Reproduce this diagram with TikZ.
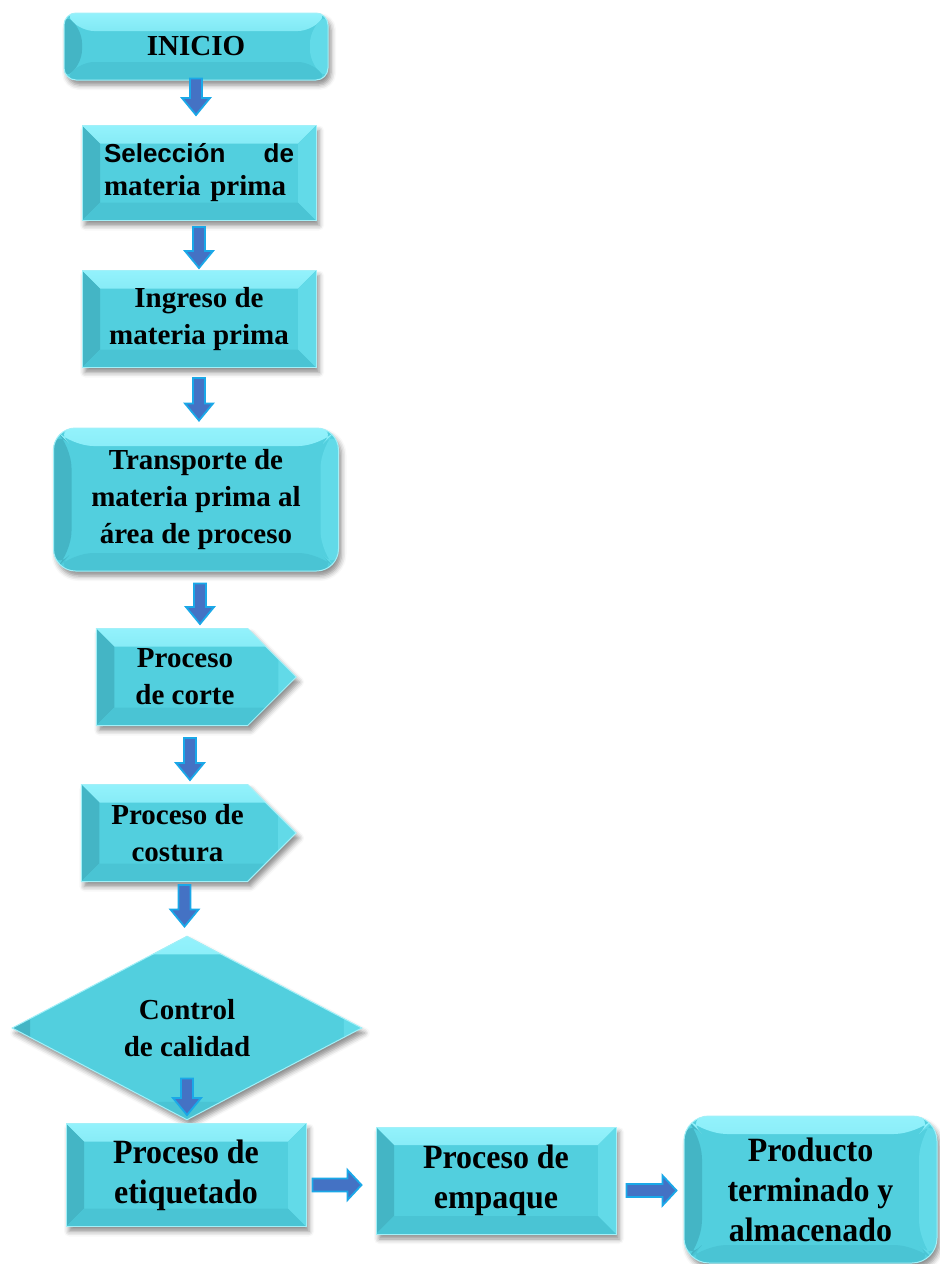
\documentclass[tikz,border=0pt]{standalone}
\usepackage{fontspec}
\setmainfont{Liberation Serif}
\setsansfont{Liberation Sans}
\newfontfamily\narrowserif{Liberation Serif}[FakeStretch=0.94]
\usetikzlibrary{calc,shapes.geometric,shapes.symbols,shadows.blur}

\definecolor{boxmain}{HTML}{52CFDE}
\definecolor{boxtop}{HTML}{93F2FC}
\definecolor{boxleft}{HTML}{44B5C5}
\definecolor{boxright}{HTML}{62DAE8}
\definecolor{boxbot}{HTML}{4AC4D4}
\definecolor{boxedge}{HTML}{A2F0F8}
\definecolor{arrfill}{HTML}{4472C4}
\definecolor{arredge}{HTML}{1AA8E8}

\tikzset{
    bevelfill/.style={path picture={
        \fill[top color=boxtop, bottom color=boxmain]
            (path picture bounding box.north west) -- (path picture bounding box.north east)
            -- ([shift={(-#1,-#1)}]path picture bounding box.north east)
            -- ([shift={(#1,-#1)}]path picture bounding box.north west) -- cycle;
        \fill[boxleft]
            (path picture bounding box.north west) -- ([shift={(#1,-#1)}]path picture bounding box.north west)
            -- ([shift={(#1,#1)}]path picture bounding box.south west) -- (path picture bounding box.south west) -- cycle;
        \fill[boxright]
            (path picture bounding box.north east) -- ([shift={(-#1,-#1)}]path picture bounding box.north east)
            -- ([shift={(-#1,#1)}]path picture bounding box.south east) -- (path picture bounding box.south east) -- cycle;
        \fill[boxbot]
            (path picture bounding box.south west) -- ([shift={(#1,#1)}]path picture bounding box.south west)
            -- ([shift={(-#1,#1)}]path picture bounding box.south east) -- (path picture bounding box.south east) -- cycle;
    }},
    box/.style={fill=boxmain, draw=boxedge, line width=0.5pt, align=center, inner sep=2pt,
        font=\bfseries\fontsize{14.5}{18.5}\selectfont,
        blur shadow={shadow xshift=1.5pt, shadow yshift=-2.5pt, shadow blur radius=2.5pt, shadow opacity=45},
        bevelfill=9pt},
    tag/.style={box, signal, signal to=east, signal pointer angle=90},
    lowbox/.style={box, font=\narrowserif\bfseries\fontsize{17}{20}\selectfont},
    blk/.style={fill=arrfill, draw=arredge, line width=0.9pt, line join=miter},
}

\begin{document}
\begin{tikzpicture}[x=0.5pt, y=-0.5pt]
    % block arrows: #1 top of the shaft, #2 the tip
    \def\arrdown#1#2{%
        \path[blk] let \p1=(#1), \p2=(#2) in
            (\x1-3pt,\y1) -- (\x1+3pt,\y1) -- (\x1+3pt,\y2+8.5pt) -- (\x1+7pt,\y2+8.5pt)
            -- (\x1,\y2) -- (\x1-7pt,\y2+8.5pt) -- (\x1-3pt,\y2+8.5pt) -- cycle;
    }
    \def\arrright#1#2{%
        \path[blk] let \p1=(#1), \p2=(#2) in
            (\x1,\y1+3.25pt) -- (\x2-7pt,\y1+3.25pt) -- (\x2-7pt,\y1+7.5pt) -- (\x2,\y1)
            -- (\x2-7pt,\y1-7.5pt) -- (\x2-7pt,\y1-3.25pt) -- (\x1,\y1-3.25pt) -- cycle;
    }
    % push the text of the tag boxes towards the tip
    \def\tip{\hspace*{13pt}}

    \useasboundingbox (0,0) rectangle (939,1264);

    % main column
    \node[box, rounded corners=6pt, minimum width=132pt, minimum height=33.5pt] (ini) at (196,46.5) {INICIO};
    \node[box, minimum width=117pt, minimum height=47.5pt, align=left, text width=95pt,
        font=\bfseries\fontsize{14.5}{16.5}\selectfont] (sel) at (199,173)
        {\makebox[95pt]{\sffamily\fontsize{13}{16.5}\selectfont Selección\hfill de}\\materia prima};
    \node[box, minimum width=117pt, minimum height=48.5pt] (ing) at (199,319) {Ingreso de\\materia prima};
    \node[box, rounded corners=11pt, minimum width=142.5pt, minimum height=71.5pt] (tra) at (196,499.5)
        {Transporte de\\materia prima al\\área de proceso};
    \node[tag, minimum width=100pt, minimum height=48.5pt] (cor) at (172,677)
        {\tip Proceso\\\tip de corte};
    \node[tag, minimum width=104.5pt, minimum height=48.5pt] (cos) at (164.5,833)
        {\tip Proceso de\\\tip costura};
    \node[box, diamond, inner sep=0pt, minimum width=175pt, minimum height=90pt] (cal) at (187,1028)
        {Control\\de calidad};

    % bottom row
    \node[lowbox, minimum width=120pt, minimum height=51.5pt] (eti) at (186,1175) {Proceso de\\etiquetado};
    \node[lowbox, minimum width=120pt, minimum height=53.5pt] (emp) at (496,1180.5) {Proceso de\\empaque};
    \node[lowbox, rounded corners=12.5pt, minimum width=126.5pt, minimum height=73.5pt] (pro) at (810.5,1189.5)
        {Producto\\terminado y\\almacenado};

    % connectors
    \arrdown{[yshift=1pt]ini.south}{[yshift=5pt]sel.north}
    \arrdown{[yshift=-3pt]sel.south}{[yshift=1pt]ing.north}
    \arrdown{[yshift=-5pt]ing.south}{[yshift=3.5pt]tra.north}
    \arrdown{[xshift=2pt,yshift=-6pt]tra.south}{[yshift=2pt]cor.north}
    \arrdown{[xshift=9pt,yshift=-6pt]cor.south}{[yshift=2pt]cos.north}
    \arrdown{[xshift=10pt,yshift=-1.5pt]cos.south}{[yshift=4.5pt]cal.north}
    \arrdown{[yshift=21pt]cal.south}{[yshift=4pt]eti.north}
    \arrright{[xshift=3pt,yshift=-5pt]eti.east}{[xshift=-7pt]emp.west}
    \arrright{[xshift=5pt,yshift=-5pt]emp.east}{[xshift=-3.5pt]pro.west}

\end{tikzpicture}
\end{document}
